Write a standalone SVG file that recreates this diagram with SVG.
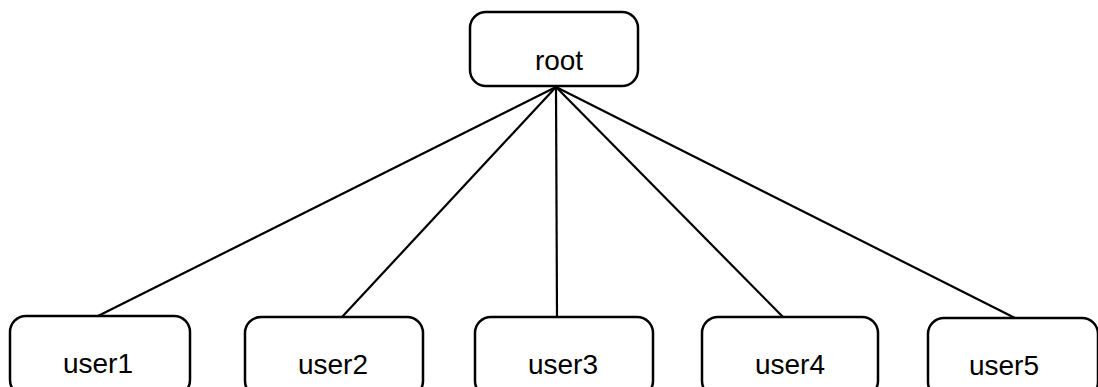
<svg xmlns="http://www.w3.org/2000/svg" width="1098" height="387" viewBox="0 0 1098 387">
<style>
.box{fill:#fff;stroke:#000;stroke-width:2.5}
.lbl{font-family:"Liberation Sans",Arial,sans-serif;font-size:28px;fill:#000;text-anchor:middle}
.edge{stroke:#000;stroke-width:2.2;fill:none}
</style>
<rect width="1098" height="387" fill="#fff"/>
<g id="connectors">
<line class="edge" x1="556" y1="87" x2="98" y2="316"/>
<line class="edge" x1="556" y1="87" x2="342" y2="317"/>
<line class="edge" x1="556" y1="87" x2="557" y2="317"/>
<line class="edge" x1="556" y1="87" x2="783" y2="317"/>
<line class="edge" x1="556" y1="87" x2="1015" y2="318"/>
</g>
<g id="root">
<rect class="box" x="470" y="12" width="168" height="74" rx="16"/>
<text class="lbl" x="559" y="70">root</text>
</g>
<g id="user1">
<rect class="box" x="10" y="316" width="180" height="80" rx="16"/>
<text class="lbl" x="98" y="373">user1</text>
</g>
<g id="user2">
<rect class="box" x="245" y="317" width="178" height="80" rx="16"/>
<text class="lbl" x="333" y="374">user2</text>
</g>
<g id="user3">
<rect class="box" x="475" y="317" width="178" height="80" rx="16"/>
<text class="lbl" x="563" y="374">user3</text>
</g>
<g id="user4">
<rect class="box" x="702" y="317" width="176" height="80" rx="16"/>
<text class="lbl" x="790" y="374">user4</text>
</g>
<g id="user5">
<rect class="box" x="928" y="318" width="170" height="80" rx="16"/>
<text class="lbl" x="1004" y="375">user5</text>
</g>
</svg>
